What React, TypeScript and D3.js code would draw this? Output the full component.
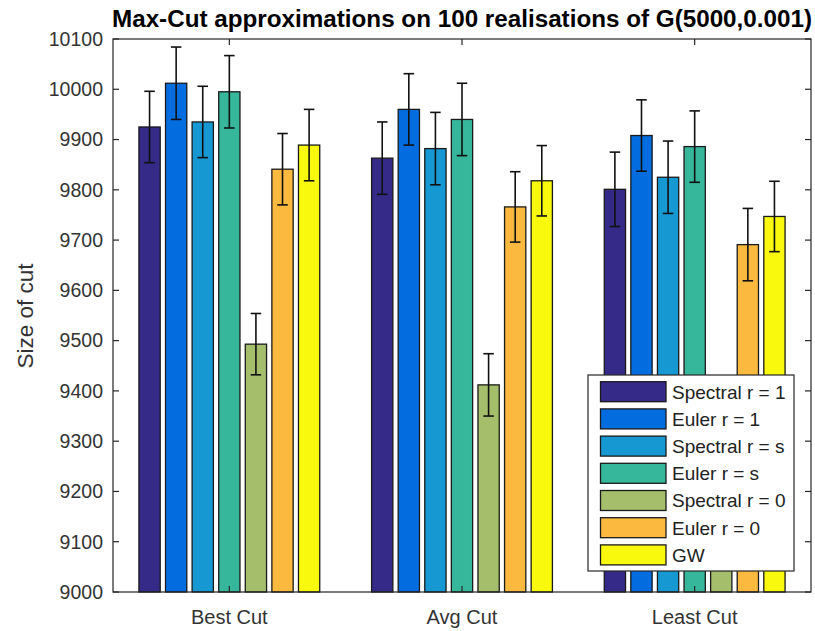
import React from "react";
import * as d3 from "d3";

const categories = ["Best Cut", "Avg Cut", "Least Cut"];
const seriesNames = ["Spectral r = 1", "Euler r = 1", "Spectral r = s", "Euler r = s", "Spectral r = 0", "Euler r = 0", "GW"];
const seriesColors = ["#352A87", "#036DE0", "#1699D3", "#36B79C", "#A5BE6B", "#FBB93F", "#F9F90E"];
// values[series][category]
const spectral1 = [9925, 9863, 9801];
const euler1 = [10012, 9960, 9908];
const spectralS = [9935, 9882, 9825];
const eulerS = [9995, 9940, 9886];
const spectral0 = [9493, 9412, 9360];
const euler0 = [9841, 9766, 9691];
const gw = [9889, 9818, 9747];
const err1 = [71, 72, 74];
const errE1 = [72, 71, 71];
const errS = [71, 72, 72];
const errES = [72, 72, 71];
const err0 = [61, 62, 62];
const errE0 = [71, 70, 72];
const errGW = [71, 70, 70];
const yTicks = [9000, 9100, 9200, 9300, 9400, 9500, 9600, 9700, 9800, 9900, 10000, 10100];

const values = [spectral1, euler1, spectralS, eulerS, spectral0, euler0, gw];
const errors = [err1, errE1, errS, errES, err0, errE0, errGW];

const W = 815, H = 631;
const left = 113, right = 811, top = 39, bottom = 592;
const font = "'Liberation Sans', Arial, Helvetica, sans-serif";
const axisColor = "#262626";

export default function App() {
  const x = d3.scaleLinear().domain([0.5, 3.5]).range([left, right]);
  const y = d3.scaleLinear().domain([9000, 10100]).range([bottom, top]);
  const n = seriesNames.length;
  const groupWidth = 0.8;
  const step = groupWidth / n;
  const barW = (x(1 + step * 0.8) - x(1));
  const capW = 10.5;

  const legX = 588, legY = 375, legW = 206, legH = 196;
  const rowPitch = 27.2;

  return (
    <svg width={W} height={H} style={{ position: "absolute", left: 0, top: 0, background: "#fff" }}>
      <rect x={0} y={0} width={W} height={H} fill="#fff" />
      {/* bars */}
      {values.map((vals, s) =>
        vals.map((v, c) => {
          const cx = x(c + 1 + (s - (n - 1) / 2) * step);
          return (
            <rect key={`b${s}-${c}`} x={cx - barW / 2} y={y(v)} width={barW} height={y(9000) - y(v)}
              fill={seriesColors[s]} stroke="#1a1a1a" strokeWidth={1.3} />
          );
        })
      )}
      {/* error bars */}
      {values.map((vals, s) =>
        vals.map((v, c) => {
          const cx = x(c + 1 + (s - (n - 1) / 2) * step);
          const e = errors[s][c];
          const y1 = y(v + e), y2 = y(v - e);
          return (
            <g key={`e${s}-${c}`} stroke="#111" strokeWidth={1.6}>
              <line x1={cx} x2={cx} y1={y1} y2={y2} />
              <line x1={cx - capW / 2} x2={cx + capW / 2} y1={y1} y2={y1} />
              <line x1={cx - capW / 2} x2={cx + capW / 2} y1={y2} y2={y2} />
            </g>
          );
        })
      )}
      {/* axes box */}
      <rect x={left} y={top} width={right - left} height={bottom - top} fill="none" stroke={axisColor} strokeWidth={1.2} />
      {/* y ticks */}
      {yTicks.map((t) => (
        <g key={`yt${t}`}>
          <line x1={left} x2={left + 6} y1={y(t)} y2={y(t)} stroke={axisColor} strokeWidth={1.2} />
          <line x1={right} x2={right - 6} y1={y(t)} y2={y(t)} stroke={axisColor} strokeWidth={1.2} />
          <text x={left - 10} y={y(t)} dy="0.35em" textAnchor="end" fontFamily={font} fontSize={19.5} fill="#333">{t}</text>
        </g>
      ))}
      {/* x ticks */}
      {categories.map((cat, i) => (
        <g key={`xt${i}`}>
          <line x1={x(i + 1)} x2={x(i + 1)} y1={top} y2={top + 6} stroke={axisColor} strokeWidth={1.2} />
          <line x1={x(i + 1)} x2={x(i + 1)} y1={bottom} y2={bottom - 6} stroke={axisColor} strokeWidth={1.2} />
          <text x={x(i + 1)} y={624} textAnchor="middle" fontFamily={font} fontSize={20} fill="#333">{cat}</text>
        </g>
      ))}
      {/* y label */}
      <text transform={`translate(33,316) rotate(-90)`} textAnchor="middle" fontFamily={font} fontSize={22.5} fill="#333">Size of cut</text>
      {/* title */}
      <text x={(left + right) / 2} y={27} textAnchor="middle" fontFamily={font} fontSize={23.5} fontWeight="bold" fill="#000"
        textLength={700} lengthAdjust="spacingAndGlyphs">Max-Cut approximations on 100 realisations of G(5000,0.001)</text>
      {/* legend */}
      <rect x={legX} y={legY} width={legW} height={legH} fill="#fff" stroke={axisColor} strokeWidth={1.2} />
      {seriesNames.map((name, i) => (
        <g key={`lg${i}`}>
          <rect x={600.5} y={legY + 6.7 + i * rowPitch} width={65.5} height={20} fill={seriesColors[i]} stroke="#1a1a1a" strokeWidth={1.3} />
          <text x={672} y={legY + 6.7 + i * rowPitch + 10} dy="0.36em" fontFamily={font} fontSize={19} fill="#222">{name}</text>
        </g>
      ))}
    </svg>
  );
}
